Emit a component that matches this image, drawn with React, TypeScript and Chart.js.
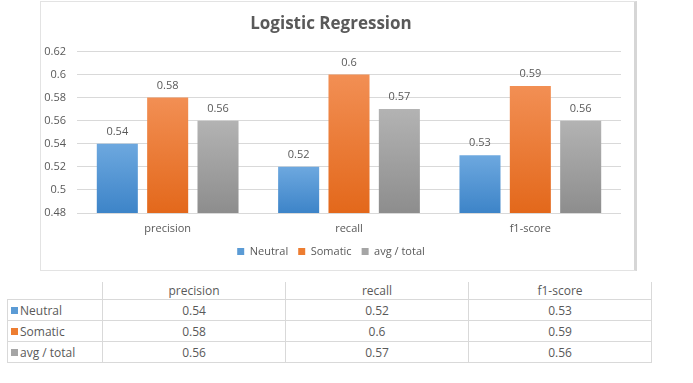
import React, { useEffect, useRef } from "react";
import { Chart, registerables } from "chart.js";

Chart.register(...registerables);

const categories = ["precision", "recall", "f1-score"];
const seriesNames = ["Neutral", "Somatic", "avg / total"];
const neutralValues = [0.54, 0.52, 0.53];
const somaticValues = [0.58, 0.6, 0.59];
const avgValues = [0.56, 0.57, 0.56];
const yTicks = [0.48, 0.5, 0.52, 0.54, 0.56, 0.58, 0.6, 0.62];

const solidColors = ["#5b9bd5", "#ed7d31", "#a5a5a5"];
const gradTop = ["#6da8df", "#f28f54", "#b3b3b3"];
const gradBottom = ["#3d84c8", "#e3681b", "#8d8d8d"];
const TEXT = "#595959";
const FONT = "'Open Sans', 'Noto Sans', sans-serif";

const dataLabelPlugin = {
  id: "dataLabels",
  afterDatasetsDraw(chart: any) {
    const ctx = chart.ctx;
    ctx.save();
    ctx.font = `11px ${FONT}`;
    ctx.fillStyle = TEXT;
    ctx.textAlign = "center";
    ctx.textBaseline = "middle";
    chart.data.datasets.forEach((ds: any, i: number) => {
      const meta = chart.getDatasetMeta(i);
      meta.data.forEach((el: any, j: number) => {
        ctx.fillText(String(ds.data[j]), el.x, el.y - 12);
      });
    });
    ctx.restore();
  },
};

function makeGradient(i: number) {
  return (context: any) => {
    const chart = context.chart;
    const area = chart.chartArea;
    if (!area || context.type !== "data") return solidColors[i];
    const y = chart.scales.y;
    const top = y.getPixelForValue(context.raw);
    const bottom = area.bottom;
    const g = chart.ctx.createLinearGradient(0, top, 0, bottom);
    g.addColorStop(0, gradTop[i]);
    g.addColorStop(1, gradBottom[i]);
    return g;
  };
}

function ChartBox() {
  const ref = useRef<HTMLCanvasElement | null>(null);
  useEffect(() => {
    if (!ref.current) return;
    const values = [neutralValues, somaticValues, avgValues];
    const chart = new Chart(ref.current, {
      type: "bar",
      data: {
        labels: categories,
        datasets: seriesNames.map((name, i) => ({
          label: name,
          data: values[i],
          backgroundColor: makeGradient(i),
          borderWidth: 0,
          categoryPercentage: 0.833,
          barPercentage: 0.815,
        })),
      },
      options: {
        responsive: false,
        animation: false,
        layout: { padding: { left: 0, right: 13, top: 0, bottom: 3 } },
        plugins: {
          title: {
            display: true,
            text: "Logistic Regression",
            color: TEXT,
            font: { family: FONT, size: 17, weight: "bold" },
            padding: { top: 12, bottom: 17 },
          },
          legend: {
            position: "bottom",
            labels: {
              color: TEXT,
              font: { family: FONT, size: 11 },
              boxWidth: 7,
              boxHeight: 7,
              padding: 10,
              generateLabels: () =>
                seriesNames.map((n, i) => ({
                  text: n,
                  fillStyle: solidColors[i],
                  strokeStyle: solidColors[i],
                  lineWidth: 0,
                  datasetIndex: i,
                  fontColor: TEXT,
                })),
            },
          },
          tooltip: { enabled: false },
        },
        scales: {
          x: {
            grid: { display: false, drawTicks: false },
            border: { display: false },
            ticks: { color: TEXT, font: { family: FONT, size: 11 }, padding: 9 },
            afterFit: (s: any) => {
              s.height = 23;
            },
          },
          y: {
            min: 0.48,
            max: 0.62,
            afterBuildTicks: (s: any) => {
              s.ticks = yTicks.map((v) => ({ value: v }));
            },
            grid: { color: "#d9d9d9", drawTicks: false },
            border: { display: false },
            ticks: {
              color: TEXT,
              font: { family: FONT, size: 11 },
              padding: 11,
              callback: (v: any) => String(Math.round(Number(v) * 100) / 100),
            },
            afterFit: (s: any) => {
              s.width = 36;
            },
          },
        },
      },
      plugins: [dataLabelPlugin],
    });
    return () => chart.destroy();
  }, []);
  return <canvas ref={ref} width={593} height={268} style={{ display: "block" }} />;
}

const tableValues = [neutralValues, somaticValues, avgValues];

export default function App() {
  const border = "1px solid #d9d9d9";
  const cell: React.CSSProperties = {
    border,
    padding: 0,
    height: 20,
    textAlign: "center",
    color: TEXT,
    fontSize: 12,
    fontFamily: FONT,
  };
  return (
    <div
      style={{
        position: "absolute",
        left: 0,
        top: 0,
        width: 693,
        height: 383,
        background: "#fff",
        overflow: "hidden",
      }}
    >
      <div
        style={{
          position: "absolute",
          left: 40,
          top: 1,
          width: 593,
          height: 268,
          borderLeft: "1px solid #e3e3e3",
          borderTop: "1px solid #e3e3e3",
          borderBottom: "1px solid #e3e3e3",
          borderRight: "3px solid #d6d6d6",
        }}
      >
        <ChartBox />
      </div>
      <table
        style={{
          position: "absolute",
          left: 7,
          top: 282,
          width: 645,
          borderCollapse: "collapse",
          tableLayout: "fixed",
        }}
      >
        <colgroup>
          <col style={{ width: 95 }} />
          <col style={{ width: 183 }} />
          <col style={{ width: 183 }} />
          <col style={{ width: 183 }} />
        </colgroup>
        <tbody>
          <tr>
            <td style={{ ...cell, height: 17, borderTop: "none", borderLeft: "none" }}></td>
            {categories.map((c) => (
              <td key={c} style={{ ...cell, height: 17, borderTop: "none" }}>
                {c}
              </td>
            ))}
          </tr>
          {seriesNames.map((n, i) => (
            <tr key={n}>
              <td style={{ ...cell, textAlign: "left", paddingLeft: 3, whiteSpace: "nowrap" }}>
                <span
                  style={{
                    display: "inline-block",
                    width: 7,
                    height: 7,
                    background: solidColors[i],
                    marginRight: 2,
                    verticalAlign: "middle",
                    position: "relative",
                    top: -1,
                  }}
                />
                {n}
              </td>
              {tableValues[i].map((v, j) => (
                <td key={j} style={cell}>
                  {v}
                </td>
              ))}
            </tr>
          ))}
        </tbody>
      </table>
    </div>
  );
}
